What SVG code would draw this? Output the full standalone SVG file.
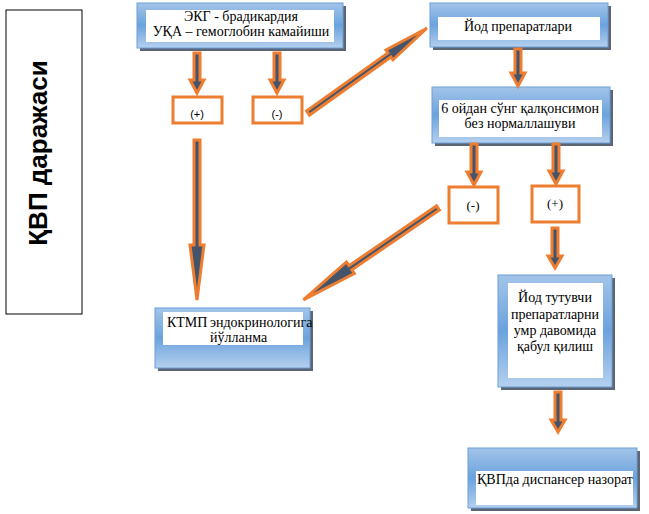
<svg xmlns="http://www.w3.org/2000/svg" width="649" height="514" viewBox="0 0 649 514">
<style>
.sh{fill:#3f4a5a;opacity:0.85}
.bx{fill:url(#g);stroke:#6a9fd8;stroke-width:1}
.wh{fill:#ffffff}
.t{font-family:"Liberation Serif","Times New Roman",serif;font-size:14px;fill:#000}
.c{text-anchor:middle}
.ob{fill:#ffffff;stroke:#ed7d31;stroke-width:3}
.lbl{font-family:"Liberation Sans",Arial,sans-serif;font-size:11px;fill:#000;text-anchor:middle}
.lbs{font-family:"Liberation Serif","Times New Roman",serif;font-size:13px;fill:#000;text-anchor:middle}
.ar{fill:#44546a;stroke:#ed7d31;stroke-width:3;stroke-linejoin:miter}
</style>
<defs>
<linearGradient id="g" x1="0" y1="0" x2="0" y2="1">
<stop offset="0" stop-color="#a3c4e9"/>
<stop offset="0.5" stop-color="#6ba3dd"/>
<stop offset="1" stop-color="#b5d0ee"/>
</linearGradient>
</defs>
<rect width="649" height="514" fill="#ffffff"/>

<g id="title">
<rect x="6" y="10" width="76" height="304" fill="#ffffff" stroke="#000" stroke-width="1"/>
<text transform="translate(47,153) rotate(-90)" text-anchor="middle" font-family="'Liberation Sans',Arial,sans-serif" font-size="26" font-weight="bold" fill="#000">ҚВП даражаси</text>
</g>

<g id="ekg">
<rect class="sh" x="140" y="6" width="206" height="45"/>
<rect class="bx" x="137" y="3" width="206" height="45"/>
<rect class="wh" x="146" y="10" width="188" height="32"/>
<text class="t c" x="241" y="21">ЭКГ - брадикардия</text>
<text class="t c" x="241" y="36">УҚА – гемоглобин камайиши</text>
</g>

<g id="yod">
<rect class="sh" x="433" y="6" width="178" height="44"/>
<rect class="bx" x="430" y="3" width="178" height="44"/>
<rect class="wh" x="438" y="17" width="162" height="23"/>
<text class="t c" x="518" y="31">Йод препаратлари</text>
</g>

<g id="six">
<rect class="sh" x="435" y="90" width="178" height="56"/>
<rect class="bx" x="432" y="87" width="178" height="56"/>
<rect class="wh" x="439" y="100" width="163" height="37"/>
<text class="t c" x="520" y="113">6  ойдан сўнг қалқонсимон</text>
<text class="t c" x="520" y="128">без нормаллашуви</text>
</g>

<g id="ktmp">
<rect class="sh" x="158" y="311" width="155" height="60"/>
<rect class="bx" x="155" y="308" width="155" height="60"/>
<rect class="wh" x="163" y="312" width="140" height="33"/>
<text class="t" x="167" y="327">КТМП</text>
<text class="t" x="210" y="327">эндокринологига</text>
<text class="t" x="210" y="342">йўлланма</text>
</g>

<g id="yodtut">
<rect class="sh" x="501" y="278" width="114" height="112"/>
<rect class="bx" x="498" y="275" width="114" height="112"/>
<rect class="wh" x="508" y="283" width="95" height="95"/>
<text class="t c" x="555" y="302">Йод тутувчи</text>
<text class="t c" x="555" y="319">препаратларни</text>
<text class="t c" x="555" y="335">умр давомида</text>
<text class="t c" x="555" y="351">қабул қилиш</text>
</g>

<g id="kvp">
<rect class="sh" x="471" y="451" width="169" height="60"/>
<rect class="bx" x="468" y="448" width="169" height="60"/>
<rect class="wh" x="476" y="471" width="157" height="34"/>
<text class="t" x="477" y="484">ҚВПда диспансер назорат</text>
</g>

<g id="plus1"><rect class="ob" x="173" y="97" width="49" height="26"/><text class="lbl" x="197" y="118">(+)</text></g>
<g id="minus1"><rect class="ob" x="253" y="97" width="49" height="26"/><text class="lbl" x="277" y="118">(-)</text></g>
<g id="minus2"><rect class="ob" x="449" y="187" width="49" height="36"/><text class="lbs" x="473" y="210">(-)</text></g>
<g id="plus2"><rect class="ob" x="532" y="186" width="47" height="36"/><text class="lbs" x="555" y="208">(+)</text></g>

<g id="connectors">
<polygon class="ar" points="194,53 200,53 200,80 204,80 197,93 190,80 194,80"/>
<polygon class="ar" points="274,53 280,53 280,80 284,80 277,93 270,80 274,80"/>
<polygon class="ar" points="194,140 200,140 200,245 204,245 197,300 190,245 194,245"/>
<polygon class="ar" points="515,49 521,49 521,73 525,73 518,86 511,73 515,73"/>
<polygon class="ar" points="471,144 477,144 477,172 481,172 474,185 467,172 471,172"/>
<polygon class="ar" points="553,144 559,144 559,171 563,171 556,184 549,171 553,171"/>
<polygon class="ar" points="552,228 558,228 558,256 562,256 555,268 548,256 552,256"/>
<polygon class="ar" points="555,392 561,392 561,420 565,420 558,432 551,420 555,420"/>
<polygon class="ar" transform="translate(308,113) rotate(-35.5)" points="0,-2.5 100,-2.5 100,-6 146,0 100,6 100,2.5 0,2.5"/>
<polygon class="ar" transform="translate(438,208) rotate(145.7)" points="0,-2.5 106,-2.5 106,-7 163,0 106,7 106,2.5 0,2.5"/>
</g>
</svg>
